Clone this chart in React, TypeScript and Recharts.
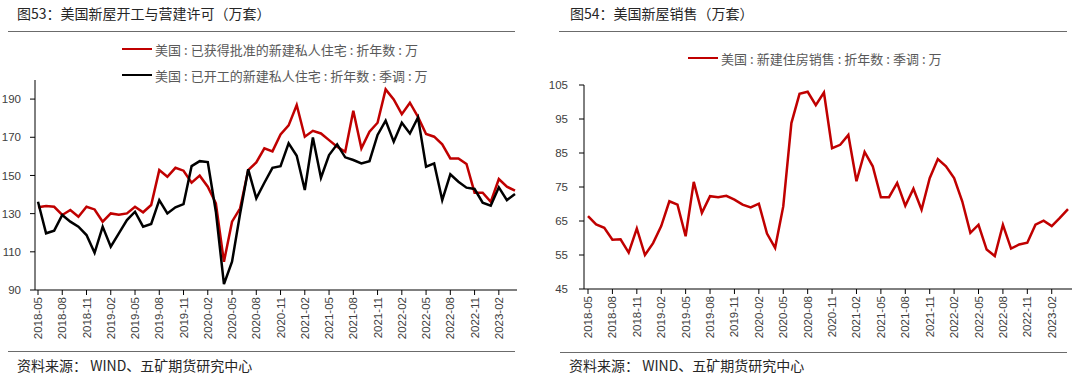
import React from 'react';
import { LineChart, Line, XAxis, YAxis, Legend } from 'recharts';

const months: string[] = [
  '2018-05','2018-06','2018-07','2018-08','2018-09','2018-10','2018-11','2018-12',
  '2019-01','2019-02','2019-03','2019-04','2019-05','2019-06','2019-07','2019-08','2019-09','2019-10','2019-11','2019-12',
  '2020-01','2020-02','2020-03','2020-04','2020-05','2020-06','2020-07','2020-08','2020-09','2020-10','2020-11','2020-12',
  '2021-01','2021-02','2021-03','2021-04','2021-05','2021-06','2021-07','2021-08','2021-09','2021-10','2021-11','2021-12',
  '2022-01','2022-02','2022-03','2022-04','2022-05','2022-06','2022-07','2022-08','2022-09','2022-10','2022-11','2022-12',
  '2023-01','2023-02','2023-03','2023-04',
];

const permits: number[] = [
  133.3, 134.0, 133.6, 129.3, 131.9, 128.4, 133.6, 132.2, 125.8, 130.1,
  129.4, 130.1, 133.6, 130.7, 134.5, 152.8, 149.3, 154.0, 152.5, 146.2,
  149.9, 144.1, 135.4, 104.8, 125.8, 132.8, 152.8, 156.8, 164.2, 162.6,
  171.5, 176.2, 186.9, 170.3, 173.4, 172.0, 168.5, 165.0, 162.4, 183.9,
  164.2, 172.9, 177.6, 195.1, 189.8, 182.1, 188.1, 180.7, 171.7, 170.3,
  166.3, 158.9, 158.9, 156.0, 141.0, 141.0, 136.2, 148.1, 144.1, 142.0,
];

const starts: number[] = [
  136.2, 119.7, 121.1, 129.3, 125.8, 123.2, 118.8, 109.5, 123.2, 112.7,
  119.7, 126.6, 131.0, 123.2, 124.6, 137.1, 130.1, 133.3, 135.0, 154.9,
  157.5, 157.0, 131.0, 93.1, 104.8, 130.1, 153.2, 138.0, 146.2, 154.0,
  154.9, 166.8, 160.3, 142.4, 169.9, 148.8, 160.7, 166.3, 159.5, 158.1,
  156.3, 157.5, 171.2, 178.7, 167.7, 177.6, 172.0, 180.4, 154.6, 156.3,
  137.1, 150.6, 146.7, 143.6, 142.9, 135.7, 134.2, 143.8, 137.1, 140.3,
];

const sales: number[] = [
  66.4, 64.0, 63.0, 59.5, 59.6, 55.7, 62.8, 55.0, 58.5, 63.5,
  70.8, 69.8, 60.5, 76.5, 67.4, 72.3, 72.0, 72.4, 71.3, 69.8,
  69.0, 70.1, 61.3, 57.1, 69.3, 93.8, 102.4, 103.0, 99.1, 102.8,
  86.4, 87.4, 90.3, 76.7, 85.3, 81.1, 72.0, 72.0, 76.2, 69.5,
  74.5, 68.3, 77.6, 83.2, 81.1, 77.6, 70.8, 61.5, 63.9, 56.6,
  54.7, 63.9, 56.9, 58.1, 58.6, 63.9, 65.1, 63.5, 65.9, 68.5,
];

const leftTicks: number[] = [90, 110, 130, 150, 170, 190];
const rightTicks: number[] = [45, 55, 65, 75, 85, 95, 105];

const permitsName = '美国:已获得批准的新建私人住宅:折年数:万';
const startsName = '美国:已开工的新建私人住宅:折年数:季调:万';
const salesName = '美国:新建住房销售:折年数:季调:万';
const legendOrder: string[] = [permitsName, startsName, salesName];

const leftTitle = '图53：美国新屋开工与营建许可（万套）';
const rightTitle = '图54：美国新屋销售（万套）';
const sourceText = '资料来源： WIND、五矿期货研究中心';

const leftData = months.map((m, i) => ({ month: m, permits: permits[i], starts: starts[i] }));
const rightData = months.map((m, i) => ({ month: m, sales: sales[i] }));

const CJK = '"Noto Sans CJK SC", "Noto Sans", sans-serif';
const NUM = '"Liberation Sans", Arial, sans-serif';
const TICK_COLOR = '#404040';

const XTick = (props: any) => {
  const { x, y, payload } = props;
  return (
    <text
      x={0}
      y={0}
      transform={`translate(${x},${y}) rotate(-90)`}
      textAnchor="end"
      dominantBaseline="central"
      fontSize={11.5}
      fill={TICK_COLOR}
      fontFamily={NUM}
    >
      {payload.value}
    </text>
  );
};

const renderColonText = (s: string) => {
  const parts = s.split(':');
  const out: React.ReactNode[] = [];
  parts.forEach((p, i) => {
    if (i > 0) out.push(<span key={'c' + i} style={{ margin: '0 3px' }}>:</span>);
    out.push(<span key={'t' + i}>{p}</span>);
  });
  return out;
};

const LegendContent = (props: any) => {
  const items = [...(props.payload || [])].sort(
    (a: any, b: any) => legendOrder.indexOf(String(a.value)) - legendOrder.indexOf(String(b.value))
  );
  return (
    <div style={{ fontFamily: CJK, fontSize: 13, color: '#595959' }}>
      {items.map((entry: any, idx: number) => (
        <div key={idx} style={{ display: 'flex', alignItems: 'center', height: 26, whiteSpace: 'nowrap' }}>
          <span style={{ display: 'inline-block', width: 30, height: 0, borderTop: `2.5px solid ${entry.color}`, marginRight: 3 }} />
          <span>{renderColonText(String(entry.value))}</span>
        </div>
      ))}
    </div>
  );
};

const Rule = ({ left, top, width }: { left: number; top: number; width: number }) => (
  <div style={{ position: 'absolute', left, top, width, height: 0, borderTop: '1.5px solid #6b6b6b' }} />
);

const TextAt = ({ left, top, children, size = 14, color = '#262626' }: any) => (
  <div style={{ position: 'absolute', left, top, fontFamily: CJK, fontSize: size, color, lineHeight: '20px', whiteSpace: 'nowrap' }}>
    {children}
  </div>
);

export default function App() {
  return (
    <div style={{ position: 'absolute', left: 0, top: 0, width: 1080, height: 384, background: '#fff', overflow: 'hidden' }}>
      <TextAt left={17} top={3}>{leftTitle}</TextAt>
      <Rule left={8} top={31} width={507} />
      <div style={{ position: 'absolute', left: 0, top: 0 }}>
        <LineChart width={540} height={384} data={leftData} margin={{ top: 80, right: 23, bottom: 0, left: 5 }}>
          <XAxis
            dataKey="month"
            interval={2}
            tickSize={5}
            tickMargin={2}
            tick={(p: any) => <XTick {...p} />}
            axisLine={{ stroke: '#000' }}
            tickLine={{ stroke: '#000' }}
            padding={{ left: 3, right: 2 }}
            height={94}
          />
          <YAxis
            width={30}
            domain={[90, 200]}
            ticks={leftTicks}
            tickSize={5}
            tickMargin={9}
            tick={{ fontSize: 11.5, fill: TICK_COLOR, fontFamily: NUM }}
            axisLine={{ stroke: '#000' }}
            tickLine={{ stroke: '#000' }}
            allowDataOverflow
          />
          <Legend
            layout="vertical"
            align="center"
            verticalAlign="middle"
            width={330}
            wrapperStyle={{ left: 122, top: 36 }}
            content={(p: any) => <LegendContent {...p} />}
          />
          <Line name={permitsName} dataKey="permits" stroke="#C00000" strokeWidth={2.5} dot={false} isAnimationActive={false} type="linear" />
          <Line name={startsName} dataKey="starts" stroke="#000000" strokeWidth={2.5} dot={false} isAnimationActive={false} type="linear" />
        </LineChart>
      </div>
      <Rule left={8} top={351} width={507} />
      <TextAt left={17} top={355}>{sourceText}</TextAt>

      <TextAt left={570} top={3}>{rightTitle}</TextAt>
      <Rule left={559} top={31} width={508} />
      <div style={{ position: 'absolute', left: 540, top: 0 }}>
        <LineChart width={540} height={384} data={rightData} margin={{ top: 85, right: 8, bottom: 0, left: 14 }}>
          <XAxis
            dataKey="month"
            interval={2}
            tickSize={5}
            tickMargin={2}
            tick={(p: any) => <XTick {...p} />}
            axisLine={{ stroke: '#000' }}
            tickLine={{ stroke: '#000' }}
            padding={{ left: 4, right: 4 }}
            height={95}
          />
          <YAxis
            width={30}
            domain={[45, 105]}
            ticks={rightTicks}
            tickSize={5}
            tickMargin={11}
            tick={{ fontSize: 11.5, fill: TICK_COLOR, fontFamily: NUM }}
            axisLine={{ stroke: '#000' }}
            tickLine={{ stroke: '#000' }}
          />
          <Legend
            layout="vertical"
            align="center"
            verticalAlign="middle"
            width={300}
            wrapperStyle={{ left: 148, top: 45 }}
            content={(p: any) => <LegendContent {...p} />}
          />
          <Line name={salesName} dataKey="sales" stroke="#C00000" strokeWidth={2.5} dot={false} isAnimationActive={false} type="linear" />
        </LineChart>
      </div>
      <Rule left={560} top={352} width={507} />
      <TextAt left={569} top={355}>{sourceText}</TextAt>
    </div>
  );
}
